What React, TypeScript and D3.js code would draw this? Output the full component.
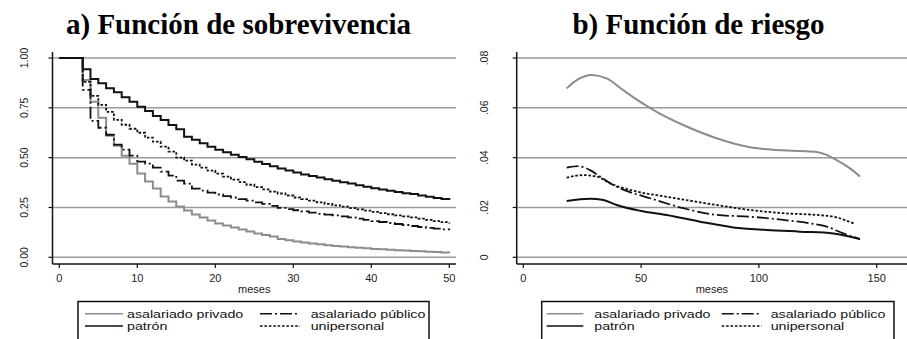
import React from "react";
import * as d3 from "d3";

// ---- Survival (Kaplan-Meier), monthly values, months 0..50 ----
const survMonths = [
  0, 1, 2, 3, 4, 5, 6, 7, 8, 9, 10, 11, 12, 13, 14, 15, 16, 17, 18, 19, 20, 21, 22, 23, 24, 25,
  26, 27, 28, 29, 30, 31, 32, 33, 34, 35, 36, 37, 38, 39, 40, 41, 42, 43, 44, 45, 46, 47, 48, 49, 50,
];
const survPrivado = [
  1, 1, 1, 0.89, 0.78, 0.7, 0.61, 0.56, 0.51, 0.47, 0.42, 0.38, 0.345, 0.305, 0.28, 0.255, 0.235,
  0.215, 0.2, 0.185, 0.17, 0.16, 0.15, 0.14, 0.13, 0.12, 0.112, 0.104, 0.092, 0.085, 0.079, 0.074,
  0.069, 0.065, 0.061, 0.057, 0.054, 0.051, 0.048, 0.045, 0.042, 0.04, 0.038, 0.036, 0.034, 0.032,
  0.03, 0.028, 0.026, 0.024, 0.022,
];
const survPublico = [
  1, 1, 1, 0.84, 0.685, 0.65, 0.615, 0.565, 0.54, 0.51, 0.48, 0.47, 0.45, 0.43, 0.41, 0.385, 0.37,
  0.345, 0.335, 0.325, 0.315, 0.307, 0.3, 0.292, 0.284, 0.276, 0.268, 0.258, 0.248, 0.242, 0.236,
  0.23, 0.224, 0.218, 0.214, 0.21, 0.205, 0.2, 0.194, 0.188, 0.182, 0.177, 0.172, 0.167, 0.162,
  0.157, 0.152, 0.148, 0.144, 0.14, 0.136,
];
const survPatron = [
  1, 1, 1, 0.943, 0.895, 0.873, 0.848, 0.828, 0.803, 0.781, 0.756, 0.734, 0.709, 0.689, 0.664,
  0.642, 0.605, 0.59, 0.572, 0.555, 0.54, 0.527, 0.515, 0.503, 0.492, 0.48, 0.468, 0.457, 0.446,
  0.436, 0.425, 0.416, 0.408, 0.4, 0.392, 0.384, 0.377, 0.37, 0.362, 0.354, 0.347, 0.34, 0.334,
  0.328, 0.322, 0.317, 0.31, 0.304, 0.298, 0.292, 0.287,
];
const survUnipersonal = [
  1, 1, 1, 0.88, 0.81, 0.765, 0.73, 0.69, 0.665, 0.645, 0.625, 0.6, 0.58, 0.555, 0.53, 0.5, 0.485,
  0.465, 0.45, 0.435, 0.42, 0.405, 0.39, 0.377, 0.364, 0.352, 0.341, 0.33, 0.32, 0.31, 0.3, 0.292,
  0.284, 0.276, 0.268, 0.261, 0.254, 0.247, 0.24, 0.234, 0.228, 0.222, 0.216, 0.21, 0.205, 0.2,
  0.194, 0.188, 0.182, 0.176, 0.17,
];

// ---- Smoothed hazard estimates ----
const hazPrivadoX = [18.4, 23, 29, 35.4, 42.4, 49.5, 56.6, 67.9, 82, 96.2, 103.3, 117.4, 124.5, 128.8, 133, 138.7, 142.9];
const hazPrivadoY = [0.0678, 0.0713, 0.0732, 0.0718, 0.0671, 0.0625, 0.0584, 0.0531, 0.0478, 0.0442, 0.0434, 0.0427, 0.0423, 0.0411, 0.039, 0.0357, 0.0324];
const hazPublicoX = [18.4, 23.4, 28.3, 32.6, 39.6, 46.7, 53.8, 67.9, 82.1, 96.2, 110.4, 121.7, 128.8, 135.8, 142.9];
const hazPublicoY = [0.036, 0.0366, 0.035, 0.0324, 0.0283, 0.0257, 0.0237, 0.0197, 0.017, 0.0163, 0.015, 0.0136, 0.0123, 0.0096, 0.0073];
const hazPatronX = [18.4, 28.3, 34, 39.6, 49.5, 60.9, 75, 89.1, 103.3, 117.4, 131.6, 142.9];
const hazPatronY = [0.0226, 0.0235, 0.023, 0.021, 0.0187, 0.017, 0.0143, 0.012, 0.011, 0.0103, 0.0096, 0.0073];
const hazUniX = [18.4, 25.5, 31.2, 36.8, 46.7, 60.9, 82, 96.2, 110.4, 124.5, 131.6, 140.8];
const hazUniY = [0.032, 0.033, 0.0324, 0.0297, 0.0267, 0.0243, 0.021, 0.019, 0.0177, 0.017, 0.0163, 0.0134];

// ---- Axis ticks and labels ----
const survXTicks = [0, 10, 20, 30, 40, 50];
const survYTicks = [0, 0.25, 0.5, 0.75, 1];
const survYLabels = ["0.00", "0.25", "0.50", "0.75", "1.00"];
const hazXTicks = [0, 50, 100, 150];
const hazYTicks = [0, 0.02, 0.04, 0.06, 0.08];
const hazYLabels = ["0", ".02", ".04", ".06", ".08"];

const seriesNames = ["asalariado privado", "asalariado público", "patrón", "unipersonal"];

const GRAY = "#8c8c8c";
const GRID = "#9a9a9a";
const INK = "#111";
const DASHDOT = "12 3 2 3";
const DOTTED = "2.6 1.8";

const sans = "'Liberation Sans', Arial, Helvetica, sans-serif";
const serif = "'Liberation Serif', 'Times New Roman', serif";

type Style = { stroke: string; dash?: string; width: number };
const styles: Style[] = [
  { stroke: GRAY, width: 2 },
  { stroke: INK, dash: DASHDOT, width: 1.8 },
  { stroke: INK, width: 2 },
  { stroke: INK, dash: DOTTED, width: 1.8 },
];

type Frame = {
  axisX: number;
  axisRight: number;
  axisTop: number;
  axisBottom: number;
  x: d3.ScaleLinear<number, number>;
  y: d3.ScaleLinear<number, number>;
  xTicks: number[];
  yTicks: number[];
  yLabels: string[];
  yLabelX: number;
};

function Axes({ f }: { f: Frame }) {
  const cx = (f.axisX + f.axisRight) / 2;
  return (
    <g>
      {f.yTicks.map((t, i) => (
        <g key={"y" + i}>
          <line x1={f.axisX} x2={f.axisRight} y1={f.y(t)} y2={f.y(t)} stroke={GRID} strokeWidth={1.5} />
          <line x1={f.axisX - 4} x2={f.axisX} y1={f.y(t)} y2={f.y(t)} stroke={INK} strokeWidth={1.2} />
          <text
            transform={`translate(${f.yLabelX},${f.y(t)}) rotate(-90)`}
            textAnchor="middle"
            fontFamily={sans}
            fontSize={10.5}
            fill="#222"
          >
            {f.yLabels[i]}
          </text>
        </g>
      ))}
      <line x1={f.axisX} x2={f.axisX} y1={f.axisTop} y2={f.axisBottom} stroke={INK} strokeWidth={1.5} />
      <line x1={f.axisX} x2={f.axisRight} y1={f.axisBottom} y2={f.axisBottom} stroke={INK} strokeWidth={1.5} />
      {f.xTicks.map((t) => (
        <g key={"x" + t}>
          <line x1={f.x(t)} x2={f.x(t)} y1={f.axisBottom} y2={f.axisBottom + 4} stroke={INK} strokeWidth={1.2} />
          <text x={f.x(t)} y={282} textAnchor="middle" fontFamily={sans} fontSize={11} fill="#222">
            {t}
          </text>
        </g>
      ))}
      <text x={cx} y={292.5} textAnchor="middle" fontFamily={sans} fontSize={11} fill="#222">
        meses
      </text>
    </g>
  );
}

function Legend({ left, right, c1, t1, c2, t2 }: { left: number; right: number; c1: [number, number]; t1: number; c2: [number, number]; t2: number }) {
  const rows = [313.7, 326];
  const pos = [
    { s: c1, t: t1, r: 0 },
    { s: c2, t: t2, r: 0 },
    { s: c1, t: t1, r: 1 },
    { s: c2, t: t2, r: 1 },
  ];
  return (
    <g>
      <rect x={left} y={301.5} width={right - left} height={60} fill="white" stroke={INK} strokeWidth={1.5} />
      {seriesNames.map((name, i) => {
        const p = pos[i];
        const st = styles[i];
        const yy = rows[p.r];
        return (
          <g key={name}>
            <line x1={p.s[0]} x2={p.s[1]} y1={yy} y2={yy} stroke={st.stroke} strokeWidth={st.width - 0.4} strokeDasharray={st.dash} />
            <text
              transform={`translate(${p.t},${yy + 3.8}) scale(1.27,1)`}
              fontFamily={sans}
              fontSize={11.2}
              fill="#111"
            >
              {name}
            </text>
          </g>
        );
      })}
    </g>
  );
}

export default function App() {
  // Panel a: survival
  const fa: Frame = {
    axisX: 52.5,
    axisRight: 456,
    axisTop: 52,
    axisBottom: 264,
    x: d3.scaleLinear().domain([0, 50]).range([59.3, 449.3]),
    y: d3.scaleLinear().domain([0, 1]).range([257.3, 58]),
    xTicks: survXTicks,
    yTicks: survYTicks,
    yLabels: survYLabels,
    yLabelX: 28,
  };
  // Panel b: hazard
  const fb: Frame = {
    axisX: 516.7,
    axisRight: 907,
    axisTop: 52,
    axisBottom: 264,
    x: d3.scaleLinear().domain([0, 150]).range([523.3, 876.7]),
    y: d3.scaleLinear().domain([0, 0.08]).range([257.3, 58]),
    xTicks: hazXTicks,
    yTicks: hazYTicks,
    yLabels: hazYLabels,
    yLabelX: 488,
  };

  const survSeries = [survPrivado, survPublico, survPatron, survUnipersonal];
  const stepLine = d3
    .line<number>()
    .x((_, i) => fa.x(survMonths[i]))
    .y((d) => fa.y(d))
    .curve(d3.curveStepAfter);

  const hazSeries: [number[], number[]][] = [
    [hazPrivadoX, hazPrivadoY],
    [hazPublicoX, hazPublicoY],
    [hazPatronX, hazPatronY],
    [hazUniX, hazUniY],
  ];
  const smooth = d3
    .line<[number, number]>()
    .x((d) => fb.x(d[0]))
    .y((d) => fb.y(d[1]))
    .curve(d3.curveMonotoneX);

  const drawOrder = [0, 1, 3, 2];

  return (
    <svg
      width={907}
      height={339}
      viewBox="0 0 907 339"
      style={{ position: "absolute", left: 0, top: 0, background: "white", display: "block" }}
    >
      <rect width={907} height={339} fill="white" />
      <text x={238.5} y={33.5} textAnchor="middle" fontFamily={serif} fontWeight="bold" fontSize={29} fill="#000">
        a) Función de sobrevivencia
      </text>
      <text x={698.5} y={33.5} textAnchor="middle" fontFamily={serif} fontWeight="bold" fontSize={29} fill="#000">
        b) Función de riesgo
      </text>

      <Axes f={fa} />
      {drawOrder.map((i) => (
        <path
          key={"s" + i}
          d={stepLine(survSeries[i]) || ""}
          fill="none"
          stroke={styles[i].stroke}
          strokeWidth={styles[i].width}
          strokeDasharray={styles[i].dash}
        />
      ))}

      <Axes f={fb} />
      {drawOrder.map((i) => {
        const [xs, ys] = hazSeries[i];
        const pts = xs.map((x, k) => [x, ys[k]] as [number, number]);
        return (
          <path
            key={"h" + i}
            d={smooth(pts) || ""}
            fill="none"
            stroke={styles[i].stroke}
            strokeWidth={styles[i].width}
            strokeDasharray={styles[i].dash}
          />
        );
      })}

      <Legend left={78} right={429} c1={[85, 123]} t1={127} c2={[260, 300]} t2={310.7} />
      <Legend left={541.7} right={894} c1={[546.7, 583.3]} t1={594.3} c2={[721.7, 761.7]} t2={770.7} />
    </svg>
  );
}
